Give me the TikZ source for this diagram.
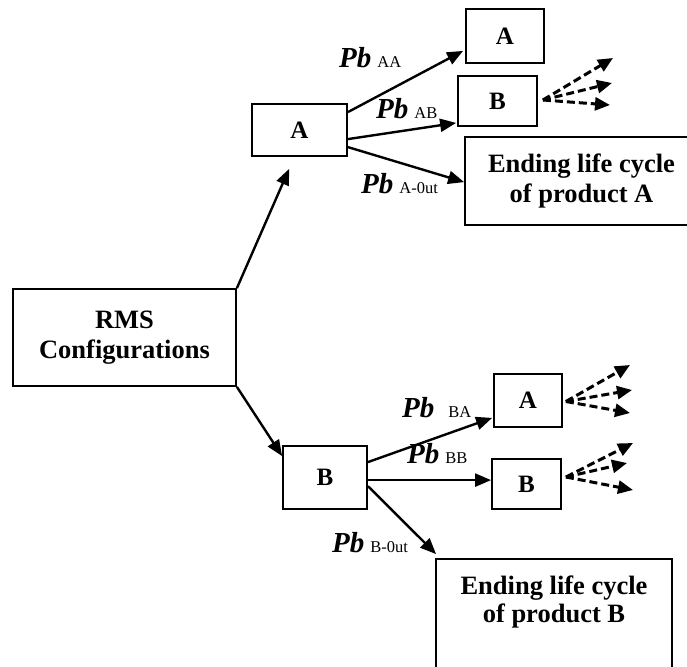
\documentclass[tikz,border=0pt]{standalone}
\usepackage{fontspec}
\setmainfont{Liberation Serif}
\usetikzlibrary{arrows.meta,calc}
\newcommand\mypb{\fontsize{29}{29}\selectfont\bfseries\itshape}
\newcommand\mysub{\fontsize{16.5}{16.5}\selectfont\mdseries\upshape}
\begin{document}
\begin{tikzpicture}[x=1pt,y=-1pt,
  box/.style={draw,line width=1.8pt,inner sep=0pt,font=\fontsize{25}{25}\selectfont\bfseries},
  bigtext/.style={align=center,inner sep=0pt,font=\fontsize{26.5}{30}\selectfont\bfseries},
  arr/.style={line width=2.4pt,-{Triangle[length=16pt,width=13pt]}},
  darr/.style={line width=3pt,dash pattern=on 8pt off 4pt,-{Triangle[length=15pt,width=13pt]}},
  lab/.style={anchor=base west,inner sep=0pt}]
\clip (0,0) rectangle (687,666);
% boxes
\node[box,minimum width=223pt,minimum height=97pt,bigtext] (rms) at (124.5,337.5) {RMS\\Configurations};
\node[box,minimum width=95pt,minimum height=52pt] (A1) at (299.5,130) {A};
\node[box,minimum width=78pt,minimum height=54pt] (AA) at (505,36) {A};
\node[box,minimum width=79pt,minimum height=50pt] (AB) at (497.5,101) {B};
\node[box,minimum width=233pt,minimum height=88pt] (endA) at (581.5,181) {};
\node[bigtext] (endAt) at (581.5,181) {Ending life cycle\\of product A};
\node[box,minimum width=84pt,minimum height=63pt] (B1) at (325,477.5) {B};
\node[box,minimum width=68pt,minimum height=53pt] (A2) at (528,400.5) {A};
\node[box,minimum width=69pt,minimum height=50pt] (B2) at (526.5,484) {B};
\node[box,minimum width=236pt,minimum height=130pt] (endB) at (554,624) {};
\node[bigtext,font=\fontsize{26.5}{28}\selectfont\bfseries] (endBt) at (554,602) {Ending life cycle\\of product B};
% main arrows
\draw[arr] (rms.north east) -- ($(A1.south west)+(38,12)$);
\draw[arr] (rms.south east) -- ($(B1.north west)+(0,11)$);
\draw[arr] ($(A1.north east)+(0,9)$) -- ($(AA.south west)+(-2,-13)$);
\draw[arr] ($(A1.north east)+(0,36)$) -- ($(AB.south west)+(-1,-4)$);
\draw[arr] ($(A1.north east)+(0,44)$) -- ($(endA.north west)+(0,46)$);
\draw[arr] ($(B1.north east)+(0,17)$) -- ($(A2.south west)+(-1,-10)$);
\draw[arr] ($(B1.north east)+(0,35)$) -- ($(B2.north west)+(0,22)$);
\draw[arr] ($(B1.north east)+(0,41)$) -- ($(endB.north west)+(1,-4)$);
% dashed arrows
\coordinate (u1) at (613,58);
\coordinate (u2) at (612,83);
\coordinate (u3) at (610,105);
\coordinate (m1) at (630,365);
\coordinate (m2) at (632,390);
\coordinate (m3) at (630,413);
\coordinate (d1) at (633,443);
\coordinate (d2) at (627,463);
\coordinate (d3) at (633,490);
\draw[darr] ($(AB.east)+(5,-1)$) -- (u1);
\draw[darr] ($(AB.east)+(5,-1)$) -- (u2);
\draw[darr] ($(AB.east)+(5,-1)$) -- (u3);
\draw[darr] ($(A2.east)+(3,1)$) -- (m1);
\draw[darr] ($(A2.east)+(3,1)$) -- (m2);
\draw[darr] ($(A2.east)+(3,1)$) -- (m3);
\draw[darr] ($(B2.east)+(4,-7)$) -- (d1);
\draw[darr] ($(B2.east)+(4,-7)$) -- (d2);
\draw[darr] ($(B2.east)+(4,-7)$) -- (d3);
% labels
\node[lab] (lAA) at (339,68) {{\mypb Pb}\hspace{6pt}{\mysub AA}};
\node[lab] (lAB) at (376,118) {{\mypb Pb}\hspace{6pt}{\mysub AB}};
\node[lab] (lA0) at (361,193) {{\mypb Pb}\hspace{6pt}{\mysub A-0ut}};
\node[lab] (lBA) at (402,417) {{\mypb Pb}\hspace{14pt}{\mysub BA}};
\node[lab] (lBB) at (407,463) {{\mypb Pb}\hspace{6pt}{\mysub BB}};
\node[lab] (lB0) at (332,552) {{\mypb Pb}\hspace{6pt}{\mysub B-0ut}};
\end{tikzpicture}
\end{document}
